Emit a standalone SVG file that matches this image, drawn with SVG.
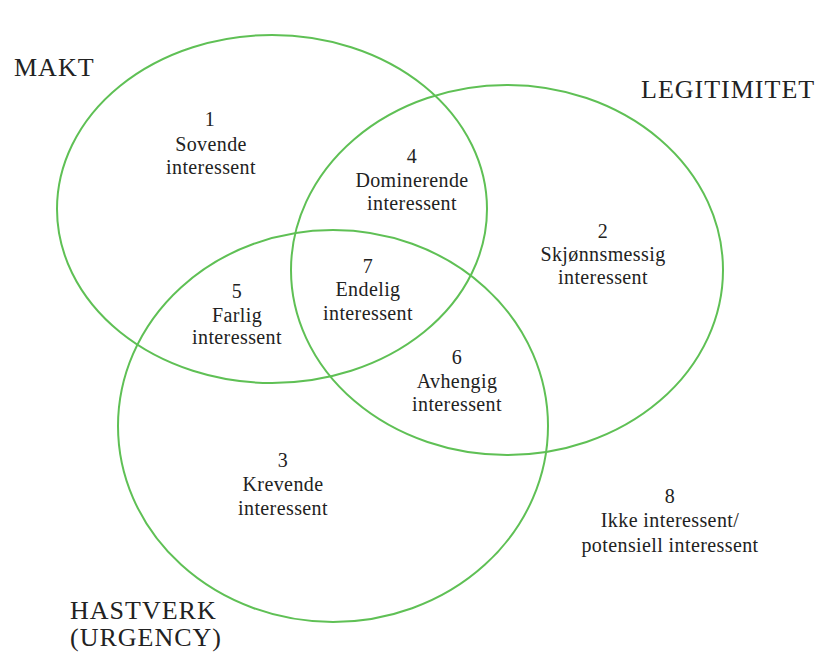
<svg xmlns="http://www.w3.org/2000/svg" width="818" height="653" viewBox="0 0 818 653">
<style>
.c{fill:none;stroke:#5fc055;stroke-width:2}
.t{font-family:'Liberation Serif','DejaVu Serif',serif;font-size:20px;fill:#222;text-anchor:middle;letter-spacing:0.4px}
.h{font-family:'Liberation Serif','DejaVu Serif',serif;font-size:26px;fill:#222;letter-spacing:1px}
</style>
<rect width="818" height="653" fill="#fff"/>
<g id="sets">
<ellipse id="makt" class="c" cx="272" cy="209" rx="215" ry="174"/>
<ellipse id="legitimitet" class="c" cx="507" cy="270" rx="216" ry="185"/>
<ellipse id="hastverk" class="c" cx="333" cy="426" rx="215" ry="196"/>
</g>
<g id="headers">
<text class="h" x="14" y="76">MAKT</text>
<text class="h" x="641" y="98">LEGITIMITET</text>
<text class="h" x="70" y="619">HASTVERK</text>
<text class="h" x="70" y="646">(URGENCY)</text>
</g>
<g id="n1"><text class="t" x="210" y="126">1</text><text class="t" x="211" y="151">Sovende</text><text class="t" x="211" y="174">interessent</text></g>
<g id="n4"><text class="t" x="412" y="163">4</text><text class="t" x="412" y="187">Dominerende</text><text class="t" x="412" y="210">interessent</text></g>
<g id="n2"><text class="t" x="603" y="238">2</text><text class="t" x="603" y="261">Skjønnsmessig</text><text class="t" x="603" y="284">interessent</text></g>
<g id="n5"><text class="t" x="237" y="298">5</text><text class="t" x="237" y="322">Farlig</text><text class="t" x="237" y="344">interessent</text></g>
<g id="n7"><text class="t" x="368" y="273">7</text><text class="t" x="368" y="296">Endelig</text><text class="t" x="368" y="320">interessent</text></g>
<g id="n6"><text class="t" x="457" y="364">6</text><text class="t" x="457" y="388">Avhengig</text><text class="t" x="457" y="411">interessent</text></g>
<g id="n3"><text class="t" x="283" y="467">3</text><text class="t" x="283" y="491">Krevende</text><text class="t" x="283" y="515">interessent</text></g>
<g id="n8"><text class="t" x="670" y="503">8</text><text class="t" x="670" y="527">Ikke interessent/</text><text class="t" x="670" y="552">potensiell interessent</text></g>
</svg>
